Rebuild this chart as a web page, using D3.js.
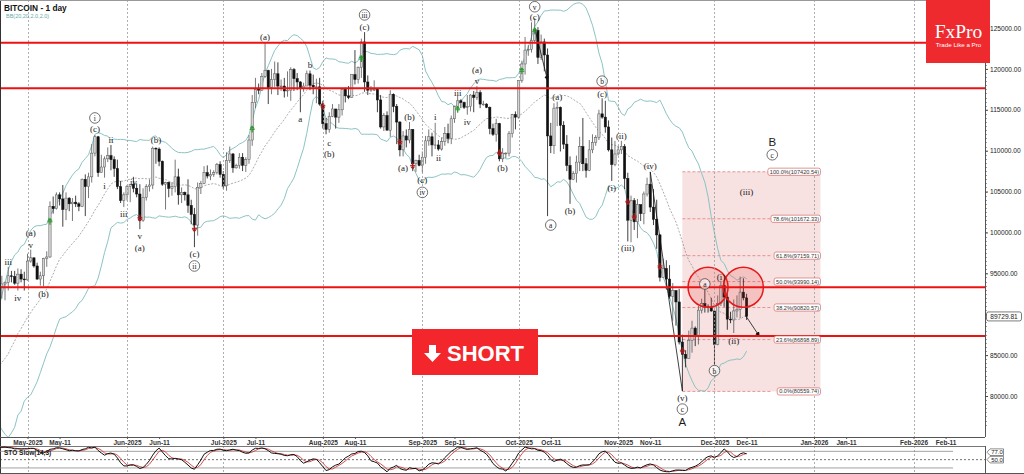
<!DOCTYPE html>
<html><head><meta charset="utf-8">
<script src="https://cdn.jsdelivr.net/npm/d3@7"></script>
<style>body{margin:0;background:#fff}svg{display:block}</style>
</head><body>
<svg id="c" width="1024" height="474"></svg>
<script>
// ---------- DATA (prices in thousands USD, daily candles [open, high, low, close]) ----------
const firstDay = "2025-03-24";
const mar = [[86.1,88.7,85.9,87.5],[87.5,88.5,86.3,87.4],[87.4,88.3,85.9,86.9],[86.9,87.8,85.8,87.2],[87.2,87.5,83.6,84.4],[84.4,84.6,81.6,82.6],[82.6,83.5,81.6,82.3],[82.3,83.9,81.3,82.5]];
const apr = [[82.5,85.5,82.4,85.1],[85.1,88.5,82.3,82.5],[82.5,83.9,81.2,83.1],[83.1,84.7,81.7,83.8],[83.8,84.2,82.4,83.5],[83.5,83.7,77.2,78.2],[78.2,81.2,74.4,79.2],[79.2,80.8,76.2,76.3],[76.3,83.5,74.6,82.6],[82.6,82.7,78.5,79.6],
 [79.6,84.3,78.9,83.4],[83.4,85.9,82.8,85.3],[85.3,86.1,83.0,83.7],[83.7,85.8,83.7,84.5],[84.5,86.0,83.6,83.7],[83.7,85.5,83.1,84.0],[84.0,85.5,83.8,84.9],[84.9,85.1,84.2,84.4],[84.4,85.6,84.3,85.1],[85.1,85.3,83.9,85.1],
 [85.1,88.5,85.1,87.5],[87.5,93.9,87.1,93.4],[93.4,94.7,91.9,93.7],[93.7,94.0,91.7,93.9],[93.9,95.8,92.9,94.7],[94.7,95.3,93.9,94.6],[94.6,95.3,93.6,93.8],[93.8,95.6,92.9,94.9],[94.9,95.5,93.9,94.3],[94.3,95.2,92.9,94.2]];
const may = [[94.2,97.4,94.1,96.5],[96.5,97.9,96.3,96.9],[96.9,96.9,95.7,95.9],[95.9,96.3,94.2,94.3],[94.3,95.2,93.5,94.7],[94.7,96.9,93.4,96.8],[96.8,97.7,95.8,97.0],[97.0,103.8,96.9,103.2],[103.2,104.4,102.3,102.9],[102.9,104.9,102.8,104.6],
 [104.6,104.9,103.3,104.1],[104.1,105.8,100.7,102.8],[102.8,104.9,101.5,104.2],[104.2,104.3,102.6,103.5],[103.5,104.2,101.4,103.7],[103.7,104.5,103.1,103.5],[103.5,103.7,102.6,103.2],[103.2,106.6,103.1,106.5],[106.5,107.1,102.0,105.6],[105.6,107.3,104.2,106.8],
 [106.8,110.8,106.1,109.7],[109.7,111.9,109.3,111.7],[111.7,111.8,106.8,107.3],[107.3,109.5,107.3,108.0],[108.0,109.3,106.7,109.0],[109.0,110.4,108.6,109.4],[109.4,110.7,107.6,108.9],[108.9,109.3,106.8,107.8],[107.8,108.9,105.3,105.6],[105.6,106.3,103.6,103.9],[103.9,104.9,103.1,104.6]];
const jun = [[104.6,105.8,103.9,105.6],[105.6,105.9,103.7,105.9],[105.9,106.8,104.9,105.4],[105.4,106.0,104.3,104.7],[104.7,105.9,100.4,101.5],[101.5,105.4,101.3,104.3],[104.3,105.9,103.9,105.6],[105.6,106.5,105.0,105.8],[105.8,110.5,105.3,110.3],[110.3,110.4,108.4,110.2],
 [110.2,110.4,108.1,108.7],[108.7,108.8,105.7,105.9],[105.9,106.2,102.8,106.1],[106.1,106.2,104.3,105.4],[105.4,106.1,104.5,105.6],[105.6,108.9,104.9,106.8],[106.8,107.8,103.4,104.6],[104.6,105.5,103.6,104.9],[104.9,105.0,103.9,104.6],[104.6,106.5,102.4,103.3],
 [103.3,104.0,101.0,102.2],[102.2,103.0,98.2,100.9],[100.9,106.1,99.6,105.5],[105.5,106.3,104.7,106.0],[106.0,108.1,105.9,107.3],[107.3,108.2,106.6,106.9],[106.9,107.7,106.4,107.1],[107.1,107.6,106.8,107.3],[107.3,108.5,107.1,108.3],[108.3,108.7,106.7,107.1]];
const jul = [[107.1,107.5,105.3,105.7],[105.7,109.8,105.1,108.8],[108.8,110.5,108.5,109.6],[109.6,109.7,107.3,107.9],[107.9,108.4,107.8,108.2],[108.2,109.7,107.8,109.2],[109.2,109.7,107.5,108.2],[108.2,109.2,107.4,108.9],[108.9,111.9,108.4,111.3],[111.3,116.8,110.6,115.9],
 [115.9,118.9,115.2,117.5],[117.5,118.2,116.9,117.4],[117.4,119.5,117.3,119.1],[119.1,123.2,118.9,119.8],[119.8,119.9,115.7,117.7],[117.7,120.0,116.9,118.7],[118.7,120.9,117.8,119.4],[119.4,120.8,116.8,117.9],[117.9,118.7,117.3,117.9],[117.9,118.9,116.5,117.3],
 [117.3,119.7,116.6,117.4],[117.4,120.2,116.1,119.9],[119.9,120.1,117.3,118.8],[118.8,119.5,117.4,118.4],[118.4,118.5,114.7,117.6],[117.6,118.3,117.2,117.9],[117.9,119.8,117.9,119.4],[119.4,119.8,117.4,118.0],[118.0,119.3,116.9,117.8],[117.8,118.8,115.8,117.8],[117.8,118.9,115.5,115.7]];
const aug = [[115.7,116.1,112.7,113.3],[113.3,114.0,112.0,112.6],[112.6,114.7,112.2,114.2],[114.2,115.7,114.1,115.1],[115.1,115.1,112.7,114.1],[114.1,115.7,113.4,115.0],[115.0,117.6,114.3,117.5],[117.5,117.7,115.9,116.7],[116.7,117.9,116.3,116.5],[116.5,119.3,116.5,119.3],
 [119.3,122.3,118.1,118.7],[118.7,120.3,118.2,120.2],[120.2,123.7,118.9,123.3],[123.3,124.5,117.2,118.4],[118.4,119.2,116.8,117.4],[117.4,117.9,117.2,117.5],[117.5,118.6,117.3,117.5],[117.5,117.6,114.7,116.2],[116.2,116.8,112.7,112.9],[112.9,114.6,112.4,114.3],
 [114.3,114.8,112.6,112.5],[112.5,117.4,111.7,116.9],[116.9,117.0,114.7,115.4],[115.4,115.7,110.8,113.5],[113.5,113.6,109.3,110.1],[110.1,112.4,109.3,111.8],[111.8,112.6,110.4,111.3],[111.3,113.5,110.9,112.6],[112.6,112.6,107.5,108.4],[108.4,108.9,107.4,108.8],[108.8,109.5,108.1,108.2]];
const sep = [[108.2,109.9,107.3,109.2],[109.2,111.8,108.4,111.2],[111.2,112.6,110.6,111.7],[111.7,112.2,109.3,110.7],[110.7,113.4,110.2,110.7],[110.7,111.3,110.0,110.2],[110.2,111.6,110.0,111.1],[111.1,112.9,110.6,112.1],[112.1,113.3,110.9,111.5],[111.5,114.3,110.8,113.9],
 [113.9,115.5,113.4,115.4],[115.4,116.7,114.8,116.1],[116.1,116.3,115.2,115.9],[115.9,116.0,115.1,115.3],[115.3,116.8,114.4,115.4],[115.4,116.9,114.8,116.8],[116.8,117.3,114.7,116.5],[116.5,117.9,116.2,117.1],[117.1,117.4,115.2,115.7],[115.7,116.1,115.5,115.7],
 [115.7,115.8,115.2,115.3],[115.3,115.4,112.0,112.7],[112.7,113.3,111.8,112.0],[112.0,113.9,111.1,113.3],[113.3,113.4,108.7,109.0],[109.0,110.3,108.6,109.7],[109.7,109.8,109.1,109.7],[109.7,112.4,109.3,112.1],[112.1,114.5,111.6,114.4],[114.4,114.8,112.6,114.1]];
const oct = [[114.1,118.6,113.9,118.6],[118.6,121.0,118.3,120.6],[120.6,123.9,119.3,122.3],[122.3,122.9,121.6,122.4],[122.4,125.7,122.0,123.5],[123.5,126.2,123.1,124.7],[124.7,125.1,120.6,121.4],[121.4,124.2,121.1,123.3],[123.3,123.7,119.7,121.7],[121.7,122.5,102.0,111.8],
 [111.8,113.4,109.7,110.6],[110.6,115.8,109.6,115.2],[115.2,116.0,113.0,115.3],[115.3,115.4,109.9,113.1],[113.1,113.6,110.2,110.8],[110.8,111.9,107.5,108.2],[108.2,109.3,103.5,106.5],[106.5,107.5,106.4,107.2],[107.2,109.4,106.1,108.6],[108.6,111.7,107.5,110.5],
 [110.5,114.0,107.5,108.4],[108.4,109.1,106.7,107.6],[107.6,111.3,107.5,110.1],[110.1,112.0,109.7,111.0],[111.0,111.9,110.6,111.6],[111.6,115.0,111.3,114.5],[114.5,116.4,113.9,114.1],[114.1,116.1,112.2,112.9],[112.9,113.7,109.9,110.1],[110.1,111.6,106.3,108.3],[108.3,111.2,108.1,109.6]];
const nov = [[109.6,110.6,109.4,110.1],[110.1,111.2,109.6,110.5],[110.5,110.8,105.3,106.6],[106.6,107.3,98.9,101.5],[101.5,104.5,98.8,103.9],[103.9,104.2,100.3,101.3],[101.3,104.1,99.3,103.4],[103.4,103.4,101.4,102.3],[102.3,105.0,101.0,104.7],[104.7,106.7,104.4,105.9],
 [105.9,107.4,102.5,103.1],[103.1,105.3,100.9,101.6],[101.6,104.0,98.0,99.7],[99.7,99.8,94.0,94.5],[94.5,96.8,94.5,95.6],[95.6,96.6,93.0,94.3],[94.3,96.0,91.9,92.2],[92.2,93.8,89.2,92.9],[92.9,92.9,88.6,91.5],[91.5,93.1,86.3,86.6],
 [86.6,87.5,80.6,85.1],[85.1,85.6,83.5,84.6],[84.6,88.0,84.6,86.8],[86.8,89.2,85.3,88.3],[88.3,88.5,86.1,87.3],[87.3,91.0,86.3,90.5],[90.5,91.9,90.1,91.3],[91.3,93.1,90.2,90.9],[90.9,91.2,90.2,90.8],[90.8,92.0,90.3,90.4]];
const dec = [[90.4,90.4,83.8,86.3],[86.3,92.3,86.2,91.3],[91.3,94.1,91.0,93.5],[93.5,94.0,90.9,92.1],[92.1,92.7,88.1,89.4],[89.4,90.3,88.9,89.3],[89.3,91.8,87.7,90.4],[90.4,92.3,89.6,90.6],[90.6,94.6,89.5,92.7],[92.7,94.4,91.7,92.0],[92.0,92.5,89.3,89.73]];

const lastPrice = 89729.81;
const supportResistance = [123200, 117630, 93300, 87350];
const fibLevels = [1.0, 0.786, 0.618, 0.5, 0.382, 0.236, 0.0];
const fibLow = 80559.74, fibHigh = 107420.54;
const fibStart = "2025-11-21", fibEnd = "2026-01-03";
const priceTicks = [80000, 85000, 90000, 95000, 100000, 105000, 110000, 115000, 120000, 125000];
const timeTicks = ["2025-05-01","2025-05-11","2025-06-01","2025-06-11","2025-07-01","2025-07-11","2025-08-01","2025-08-11","2025-09-01","2025-09-11","2025-10-01","2025-10-11","2025-11-01","2025-11-11","2025-12-01","2025-12-11","2026-01-01","2026-01-11","2026-02-01","2026-02-11"];
const timeLabels = ["May-2025","May-11","Jun-2025","Jun-11","Jul-2025","Jul-11","Aug-2025","Aug-11","Sep-2025","Sep-11","Oct-2025","Oct-11","Nov-2025","Nov-11","Dec-2025","Dec-11","Jan-2026","Jan-11","Feb-2026","Feb-11"];
// wave labels: [date, price (k), text, kind]  kind: p = plain, c = circled, B = big letter
const waveLabels = [
 ["2025-04-25",96.4,"iii","p"],["2025-05-02",99.9,"(a)","p"],["2025-05-02",98.5,"v","p"],["2025-04-28",92.0,"iv","p"],["2025-05-06",92.5,"(b)","p"],
 ["2025-05-22",114.0,"i","c"],["2025-05-22",112.6,"(c)","p"],["2025-05-27",111.3,"ii","p"],["2025-05-25",105.7,"i","p"],["2025-06-10",111.3,"(b)","p"],
 ["2025-06-03",106.2,"iv","p"],["2025-05-31",102.3,"iii","p"],["2025-06-05",99.6,"v","p"],["2025-06-05",98.1,"(a)","p"],["2025-06-22",97.4,"(c)","p"],["2025-06-22",95.9,"ii","c"],
 ["2025-07-14",123.9,"(a)","p"],["2025-07-28",120.5,"b","p"],["2025-07-25",113.9,"a","p"],["2025-08-03",110.9,"c","p"],["2025-08-03",109.6,"(b)","p"],
 ["2025-08-14",126.6,"iii","c"],["2025-08-14",125.1,"(c)","p"],["2025-08-28",114.1,"(b)","p"],["2025-08-26",107.9,"(a)","p"],["2025-09-01",106.4,"(c)","p"],["2025-09-01",104.9,"iv","c"],
 ["2025-09-05",114.1,"i","p"],["2025-09-06",109.1,"ii","p"],["2025-09-12",117.1,"iii","p"],["2025-09-15",113.5,"iv","p"],["2025-09-18",119.9,"(a)","p"],["2025-09-18",118.5,"v","p"],["2025-09-26",107.9,"(b)","p"],
 ["2025-10-06",127.6,"v","c"],["2025-10-06",126.35,"(c)","p"],["2025-10-13",116.6,"(a)","p"],["2025-10-27",118.5,"b","c"],["2025-10-27",116.9,"(c)","p"],["2025-10-11",100.9,"a","c"],["2025-10-17",102.6,"(b)","p"],
 ["2025-11-02",111.8,"(ii)","p"],["2025-10-30",105.4,"(i)","p"],["2025-11-04",98.1,"(iii)","p"],["2025-11-11",108.1,"(iv)","p"],["2025-11-21",79.75,"(v)","p"],["2025-11-21",78.4,"c","c"],["2025-11-21",76.8,"A","B"],
 ["2025-11-28",93.7,"a","c"],["2025-12-01",83.1,"b","c"],["2025-12-03",94.6,"(i)","p"],["2025-12-07",86.7,"(ii)","p"],["2025-12-11",104.9,"(iii)","p"],["2025-12-19",111.1,"B","B"],["2025-12-19",109.5,"c","c"]];
// signal markers: [date, price (k), up/down]
const signals = [["2025-05-08",101.3,"up"],["2025-07-10",112.6,"up"],["2025-08-13",121.2,"up"],["2025-09-12",115.0,"up"],["2025-10-02",119.7,"up"],["2025-10-06",124.6,"up"],
 ["2025-06-05",101.8,"dn"],["2025-06-22",100.5,"dn"],["2025-08-01",115.5,"dn"],["2025-08-25",111.1,"dn"],["2025-08-29",108.2,"dn"],["2025-09-25",109.8,"dn"],
 ["2025-11-04",103.8,"dn"],["2025-11-06",102.0,"dn"],["2025-11-14",95.9,"dn"],["2025-11-21",85.6,"dn"]];
// highlight circles [date, price (k)]
const circles = [["2025-11-29",93.3],["2025-12-10",93.3]];
// trend lines [date1, price1, date2, price2, arrow]
const trendLines = [["2025-11-11",107.4,"2025-11-21",80.6,false],["2025-10-06",125.0,"2025-10-10",118.6,true],["2025-12-11",89.66,"2025-12-15",87.3,true]];

// ---------- BUILD ----------
const parse = d3.utcParse("%Y-%m-%d");
const t0 = parse(firstDay);
const rows = [mar, apr, may, jun, jul, aug, sep, oct, nov, dec].flat();
const data = rows.map((r, i) => ({date: d3.utcDay.offset(t0, i), o: r[0]*1000, h: r[1]*1000, l: r[2]*1000, c: r[3]*1000}));
data[data.length-1].c = lastPrice;

const plotR = 985, plotB = 437, stoT = 446, stoB = 473;
const svg = d3.select("#c");
const x = d3.scaleUtc().domain([parse("2025-05-01"), parse("2026-01-01")]).range([27.5, 814]);
const y = d3.scaleLinear().domain([80000, 125000]).range([396, 28]);
const ys = d3.scaleLinear().domain([0, 100]).range([473.5, 445.8]);

svg.append("rect").attr("width",1024).attr("height",474).attr("fill","#fff");
const defs = svg.append("defs");
defs.append("clipPath").attr("id","clipMain").append("rect").attr("x",0).attr("y",0).attr("width",plotR).attr("height",plotB);
defs.append("clipPath").attr("id","clipSto").append("rect").attr("x",0).attr("y",stoT).attr("width",plotR).attr("height",stoB-stoT);
defs.append("marker").attr("id","ah").attr("viewBox","0 0 10 10").attr("refX",9).attr("refY",5)
  .attr("markerWidth",6).attr("markerHeight",6).attr("orient","auto")
  .append("path").attr("d","M0,0L10,5L0,10Z").attr("fill","#111");

const main = svg.append("g").attr("clip-path","url(#clipMain)");

// fib zone
const fy = p => y(fibLow + (fibHigh - fibLow) * p);
main.append("rect").attr("x", x(parse(fibStart))).attr("y", fy(1)).attr("width", x(parse(fibEnd)) - x(parse(fibStart)))
  .attr("height", fy(0) - fy(1)).attr("fill","#f7e1e1");

// grid (month starts)
const monthTicks = timeTicks.filter((d,i) => /20\d\d/.test(timeLabels[i])).map(parse);
svg.append("g").selectAll("line").data(monthTicks).join("line")
  .attr("x1", d => Math.round(x(d))+0.5).attr("x2", d => Math.round(x(d))+0.5).attr("y1",0).attr("y2",plotB)
  .attr("stroke","#9a9a9a").attr("stroke-width",0.8).attr("stroke-dasharray","2,2");
svg.append("g").selectAll("line").data(monthTicks).join("line")
  .attr("x1", d => Math.round(x(d))+0.5).attr("x2", d => Math.round(x(d))+0.5).attr("y1",stoT).attr("y2",stoB)
  .attr("stroke","#9a9a9a").attr("stroke-width",0.8).attr("stroke-dasharray","2,2");

// fib lines
main.append("g").selectAll("line").data(fibLevels).join("line")
  .attr("x1", x(parse(fibStart))).attr("x2", 772).attr("y1", d => fy(d)).attr("y2", d => fy(d))
  .attr("stroke","#e07070").attr("stroke-width",0.7).attr("stroke-dasharray","3,2");

// Bollinger bands (20, 2.0)
const bb = data.map((d,i) => {
  if (i < 19) return null;
  const w = data.slice(i-19, i+1).map(e => e.c);
  const m = d3.mean(w); const sd = Math.sqrt(d3.mean(w, v => (v-m)*(v-m)));
  return {date: d.date, m, u: m + 2*sd, l: m - 2*sd};
}).filter(Boolean);
const bl = k => d3.line().x(d => x(d.date)).y(d => y(d[k])).curve(d3.curveLinear);
main.append("path").datum(bb).attr("d", bl("u")).attr("fill","none").attr("stroke","#8cc3c3").attr("stroke-width",1);
main.append("path").datum(bb).attr("d", bl("l")).attr("fill","none").attr("stroke","#8cc3c3").attr("stroke-width",1);
main.append("path").datum(bb).attr("d", bl("m")).attr("fill","none").attr("stroke","#888").attr("stroke-width",0.7).attr("stroke-dasharray","2,1.5");

// candles
const cw = 2.3;
const cg = main.append("g");
cg.selectAll("line").data(data).join("line")
  .attr("x1", d => x(d.date)).attr("x2", d => x(d.date)).attr("y1", d => y(d.h)).attr("y2", d => y(d.l))
  .attr("stroke", d => d.c >= d.o ? "#555" : "#111").attr("stroke-width",0.8);
cg.selectAll("rect").data(data).join("rect")
  .attr("x", d => x(d.date) - cw/2).attr("width", cw)
  .attr("y", d => y(Math.max(d.o, d.c))).attr("height", d => Math.max(0.8, Math.abs(y(d.o) - y(d.c))))
  .attr("fill", d => d.c >= d.o ? "#d4d4d4" : "#111").attr("stroke", d => d.c >= d.o ? "#555" : "#111").attr("stroke-width",0.5);

// support / resistance
svg.append("g").selectAll("line").data(supportResistance).join("line")
  .attr("x1",0).attr("x2",plotR).attr("y1", d => y(d)).attr("y2", d => y(d)).attr("stroke","#ee1111").attr("stroke-width",2);

// trend lines
main.append("g").selectAll("line").data(trendLines).join("line")
  .attr("x1", d => x(parse(d[0]))).attr("y1", d => y(d[1]*1000)).attr("x2", d => x(parse(d[2]))).attr("y2", d => y(d[3]*1000))
  .attr("stroke","#111").attr("stroke-width",0.8).attr("marker-end", d => d[4] ? "url(#ah)" : null);

// highlight circles
main.append("g").selectAll("circle").data(circles).join("circle")
  .attr("cx", d => x(parse(d[0]))).attr("cy", d => y(d[1]*1000)).attr("r",20)
  .attr("fill","rgba(235,40,40,0.16)").attr("stroke","#e81818").attr("stroke-width",1.5);

// fib labels
const fl = svg.append("g");
fibLevels.forEach(p => {
  const v = fibLow + (fibHigh - fibLow) * p;
  const txt = (p*100).toFixed(1) + "%(" + v.toFixed(2) + ")";
  const t = fl.append("text").attr("x", 819).attr("y", fy(p) + 2).attr("text-anchor","end")
    .attr("font-family","Liberation Sans, Arial").attr("font-size",5.6).attr("fill","#333").text(txt);
  const bw = t.node().getComputedTextLength();
  fl.insert("rect","text").attr("x", 819 - bw - 2).attr("y", fy(p) - 3.6).attr("width", bw + 3.5).attr("height", 7.2).attr("rx",2)
    .attr("fill","#fff").attr("stroke","#d46a6a").attr("stroke-width",0.7);
});

// signal markers
const sg = svg.append("g");
signals.forEach(s => {
  const cx = x(parse(s[0])), cy = y(s[1]*1000);
  const col = s[2] === "up" ? "#2a9a2a" : "#b01818";
  const dir = s[2] === "up" ? -1 : 1;
  sg.append("path").attr("d", `M${cx},${cy+dir*4} L${cx-2.6},${cy+dir*1} L${cx+2.6},${cy+dir*1} Z`).attr("fill",col);
  sg.append("line").attr("x1",cx).attr("x2",cx).attr("y1",cy+dir*1).attr("y2",cy-dir*3).attr("stroke",col).attr("stroke-width",1.2);
  sg.append("line").attr("x1",cx-2.5).attr("x2",cx+2.5).attr("y1",cy).attr("y2",cy).attr("stroke",col).attr("stroke-width",1);
});

// wave labels
const wg = svg.append("g").attr("fill","#1a1a1a");
waveLabels.forEach(w => {
  const lx = x(parse(w[0])), ly = y(w[1]*1000);
  if (w[3] === "B") {
    wg.append("text").attr("x",lx).attr("y",ly+4).attr("text-anchor","middle").attr("font-family","Liberation Sans, Arial").attr("font-size",11.5).text(w[2]);
  } else {
    if (w[3] === "c") wg.append("circle").attr("cx",lx).attr("cy",ly).attr("r",5.3).attr("fill","#fff").attr("fill-opacity",0.6).attr("stroke","#333").attr("stroke-width",0.7);
    wg.append("text").attr("x",lx).attr("y",ly+3).attr("text-anchor","middle").attr("font-family","Liberation Serif, Times New Roman")
      .attr("font-size", w[3] === "c" ? 7.5 : 9).text(w[2]);
  }
});

// axes
svg.append("line").attr("x1",0.5).attr("x2",0.5).attr("y1",0).attr("y2",stoB).attr("stroke","#333");
svg.append("line").attr("x1",0).attr("x2",plotR).attr("y1",0.5).attr("y2",0.5).attr("stroke","#999");
const ax = svg.append("g").attr("transform",`translate(0,${plotB})`)
  .call(d3.axisBottom(x).tickValues(timeTicks.map(parse)).tickFormat((d,i) => timeLabels[i]).tickSize(2).tickSizeOuter(0));
ax.select(".domain").attr("stroke","#555");
ax.selectAll("line").attr("stroke","#555");
ax.selectAll("text").attr("font-family","Liberation Sans, Arial").attr("font-size",6.5).attr("font-weight","bold").attr("fill","#333").attr("dy","0.45em");
ax.select(".domain").attr("d", `M0,0.5H${plotR}`);

const ay = svg.append("g").attr("transform",`translate(${plotR},0)`)
  .call(d3.axisRight(y).tickValues(priceTicks).tickFormat(d => d.toFixed(2)).tickSize(3).tickSizeOuter(0));
ay.select(".domain").attr("d", `M0.5,0V${plotB}`).attr("stroke","#555");
ay.selectAll("line").attr("stroke","#444");
ay.selectAll("text").attr("font-family","Liberation Sans, Arial").attr("font-size",6.6).attr("fill","#222").attr("x",5);
const minor = d3.range(76500, 128000, 500).filter(v => y(v) > 2 && y(v) < plotB - 2);
svg.append("g").selectAll("line").data(minor).join("line")
  .attr("x1",plotR).attr("x2",plotR+2).attr("y1", d => Math.round(y(d))+0.5).attr("y2", d => Math.round(y(d))+0.5).attr("stroke","#555").attr("stroke-width",0.6);

// last price tag
svg.append("rect").attr("x",986.5).attr("y",y(lastPrice)-4.5).attr("width",35).attr("height",9).attr("rx",2).attr("fill","#fff").attr("stroke","#444").attr("stroke-width",0.7);
svg.append("text").attr("x",1004).attr("y",y(lastPrice)+2.3).attr("text-anchor","middle").attr("font-family","Liberation Sans, Arial").attr("font-size",6.6).attr("fill","#222").text(lastPrice.toFixed(2));

// title
svg.append("text").attr("x",4).attr("y",11).attr("font-family","Liberation Sans, Arial").attr("font-weight","bold").attr("font-size",8.3).attr("fill","#111").text("BITCOIN - 1 day");
svg.append("text").attr("x",6).attr("y",18).attr("font-family","Liberation Sans, Arial").attr("font-size",5.5).attr("fill","#66aaaa").text("BB(20,20,2.0,2.0)");

// SHORT button
svg.append("rect").attr("x",412).attr("y",329).attr("width",126).attr("height",46).attr("fill","#f2262b");
svg.append("path").attr("d","M429,345 H436 V353 H441 L432.5,362 L424,353 H429 Z").attr("fill","#fff");
svg.append("text").attr("x",447).attr("y",361).attr("font-family","Liberation Sans, Arial").attr("font-weight","bold").attr("font-size",22).attr("fill","#fff").text("SHORT");

// logo
svg.append("rect").attr("x",926).attr("y",0).attr("width",64).attr("height",63).attr("fill","#ef2a2e");
svg.append("text").attr("x",958.5).attr("y",38).attr("text-anchor","middle").attr("font-family","Liberation Serif, Times New Roman").attr("font-size",19.5).attr("fill","#fff").text("FxPro");
svg.append("text").attr("x",958.5).attr("y",47).attr("text-anchor","middle").attr("font-family","Liberation Sans, Arial").attr("font-size",6.2).attr("fill","#fff").text("Trade Like a Pro");

// ---------- STO panel ----------
svg.append("line").attr("x1",0).attr("x2",plotR).attr("y1",stoT+0.5).attr("y2",stoT+0.5).attr("stroke","#777");
svg.append("line").attr("x1",0).attr("x2",1024).attr("y1",stoB+0.5).attr("y2",stoB+0.5).attr("stroke","#555");
svg.append("line").attr("x1",plotR+0.5).attr("x2",plotR+0.5).attr("y1",stoT).attr("y2",stoB).attr("stroke","#555");
[80, 20].forEach(v => svg.append("line").attr("x1",0).attr("x2",953).attr("y1",ys(v)).attr("y2",ys(v)).attr("stroke","#8a8a8a").attr("stroke-width",0.8));
svg.append("line").attr("x1",0).attr("x2",plotR).attr("y1",ys(50)).attr("y2",ys(50)).attr("stroke","#333").attr("stroke-width",0.7).attr("stroke-dasharray","2,2");

const kFast = data.map((d,i) => {
  if (i < 13) return null;
  const w = data.slice(i-13, i+1);
  const hh = d3.max(w, e => e.h), ll = d3.min(w, e => e.l);
  return 100 * (d.c - ll) / (hh - ll);
});
const kSlow = kFast.map((v,i) => i < 15 ? null : (kFast[i] + kFast[i-1] + kFast[i-2]) / 3);
const dSlow = kSlow.map((v,i) => i < 17 ? null : (kSlow[i] + kSlow[i-1] + kSlow[i-2]) / 3);
const sto = data.map((d,i) => ({date: d.date, k: kSlow[i], d: dSlow[i]})).filter(e => e.d !== null);
const stoG = svg.append("g").attr("clip-path","url(#clipSto)");
stoG.append("path").datum(sto).attr("d", d3.line().x(e => x(e.date)).y(e => ys(e.d))).attr("fill","none").attr("stroke","#d23a3a").attr("stroke-width",0.9);
stoG.append("path").datum(sto).attr("d", d3.line().x(e => x(e.date)).y(e => ys(e.k))).attr("fill","none").attr("stroke","#111").attr("stroke-width",1);
svg.append("text").attr("x",4).attr("y",455).attr("font-family","Liberation Sans, Arial").attr("font-weight","bold").attr("font-size",6.5).attr("fill","#222").text("STO Slow(14,3)");

const stoTags = [77.0, 50.0];
stoTags.forEach(v => {
  svg.append("path").attr("d", `M987,${ys(v)} l3,-3.3 h13.5 v6.6 h-13.5 Z`).attr("fill","#fff").attr("stroke","#444").attr("stroke-width",0.6);
  svg.append("text").attr("x",997).attr("y",ys(v)+2.2).attr("text-anchor","middle").attr("font-family","Liberation Sans, Arial").attr("font-size",6).attr("fill","#222").text(v.toFixed(1));
});
</script>
</body></html>
